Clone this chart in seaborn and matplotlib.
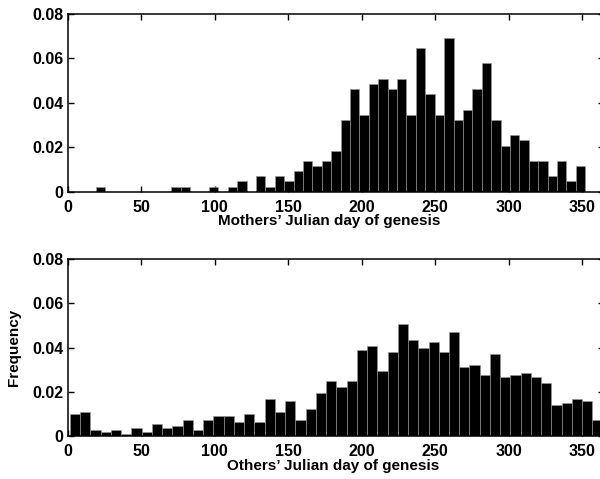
import numpy as np
import pandas as pd
import matplotlib
matplotlib.use("Agg")
import matplotlib.pyplot as plt
import seaborn as sns

# ---- data (counts per bin) ----
mothers_counts = [1, 0, 0, 0, 0, 0, 0, 0, 1, 1, 0, 0, 1, 0, 1, 2, 0, 3, 1, 3, 2, 4, 6, 5, 6, 8,
                  14, 20, 15, 21, 22, 20, 22, 15, 28, 19, 15, 30, 14, 16, 20, 25, 14, 9, 11, 10,
                  6, 6, 3, 6, 2, 5]
mothers_bin_start = 19.25
mothers_bin_width = 6.40

others_counts = [11, 12, 3, 2, 3, 1, 4, 2, 6, 4, 5, 8, 3, 8, 10, 10, 7, 11, 7, 18, 12, 17, 8, 13, 21,
                 27, 24, 27, 42, 44, 32, 41, 55, 47, 43, 46, 41, 51, 34, 35, 30, 40, 29, 30, 31, 29,
                 26, 15, 16, 18, 17, 8]
others_bin_start = 1.5
others_bin_width = 6.97

xticks = [0, 50, 100, 150, 200, 250, 300, 350]
yticks = [0, 0.02, 0.04, 0.06, 0.08]
ytick_labels = ["0", "0.02", "0.04", "0.06", "0.08"]
top_xlabel = "Mothers\u2019 Julian day of genesis"
bottom_xlabel = "Others\u2019 Julian day of genesis"
ylabel = "Frequency"

sns.set_style("ticks")
plt.rcParams["font.family"] = ["Liberation Sans", "DejaVu Sans"]
plt.rcParams["font.weight"] = "bold"
plt.rcParams["axes.labelweight"] = "bold"
plt.rcParams["text.color"] = "black"
plt.rcParams["axes.labelcolor"] = "black"
plt.rcParams["xtick.color"] = "black"
plt.rcParams["ytick.color"] = "black"

fig = plt.figure(figsize=(6.0, 4.79), dpi=100)
ax_top = fig.add_axes([0.1128, 0.5998, 0.8943, 0.3710])
ax_bot = fig.add_axes([0.1128, 0.0898, 0.8943, 0.3689])


def draw(ax, counts, start, width, xlabel, label_x):
    counts = np.asarray(counts, dtype=float)
    n = len(counts)
    centers = start + width * (np.arange(n) + 0.5)
    freq = counts / counts.sum()
    df = pd.DataFrame({"day": centers, "freq": freq})
    sns.histplot(data=df, x="day", weights="freq", binwidth=width,
                 binrange=(start, start + n * width), stat="count",
                 color="black", alpha=1.0, edgecolor="#9a9a9a", linewidth=0.4, ax=ax)
    ax.set_xlim(0, 365)
    ax.set_ylim(0, 0.08)
    ax.set_xticks(xticks)
    ax.set_xticklabels([str(t) for t in xticks])
    ax.set_yticks(yticks)
    ax.set_yticklabels(ytick_labels)
    ax.tick_params(direction="in", length=4, width=1.0, top=True, right=True,
                   labelsize=11.5, colors="black")
    ax.tick_params(axis="x", pad=6)
    ax.tick_params(axis="y", pad=3)
    for lab in ax.get_xticklabels() + ax.get_yticklabels():
        lab.set_fontweight("bold")
    for sp in ax.spines.values():
        sp.set_visible(True)
        sp.set_linewidth(1.1)
        sp.set_color("black")
    ax.set_xlabel(xlabel, fontsize=11, fontweight="bold", color="black")
    ax.xaxis.set_label_coords(label_x, -0.128)
    ax.set_ylabel("")


draw(ax_top, mothers_counts, mothers_bin_start, mothers_bin_width, top_xlabel, 0.487)
draw(ax_bot, others_counts, others_bin_start, others_bin_width, bottom_xlabel, 0.495)
ax_bot.set_ylabel(ylabel, fontsize=11, fontweight="bold", labelpad=8, color="black")

fig.savefig("out.png", dpi=100)
